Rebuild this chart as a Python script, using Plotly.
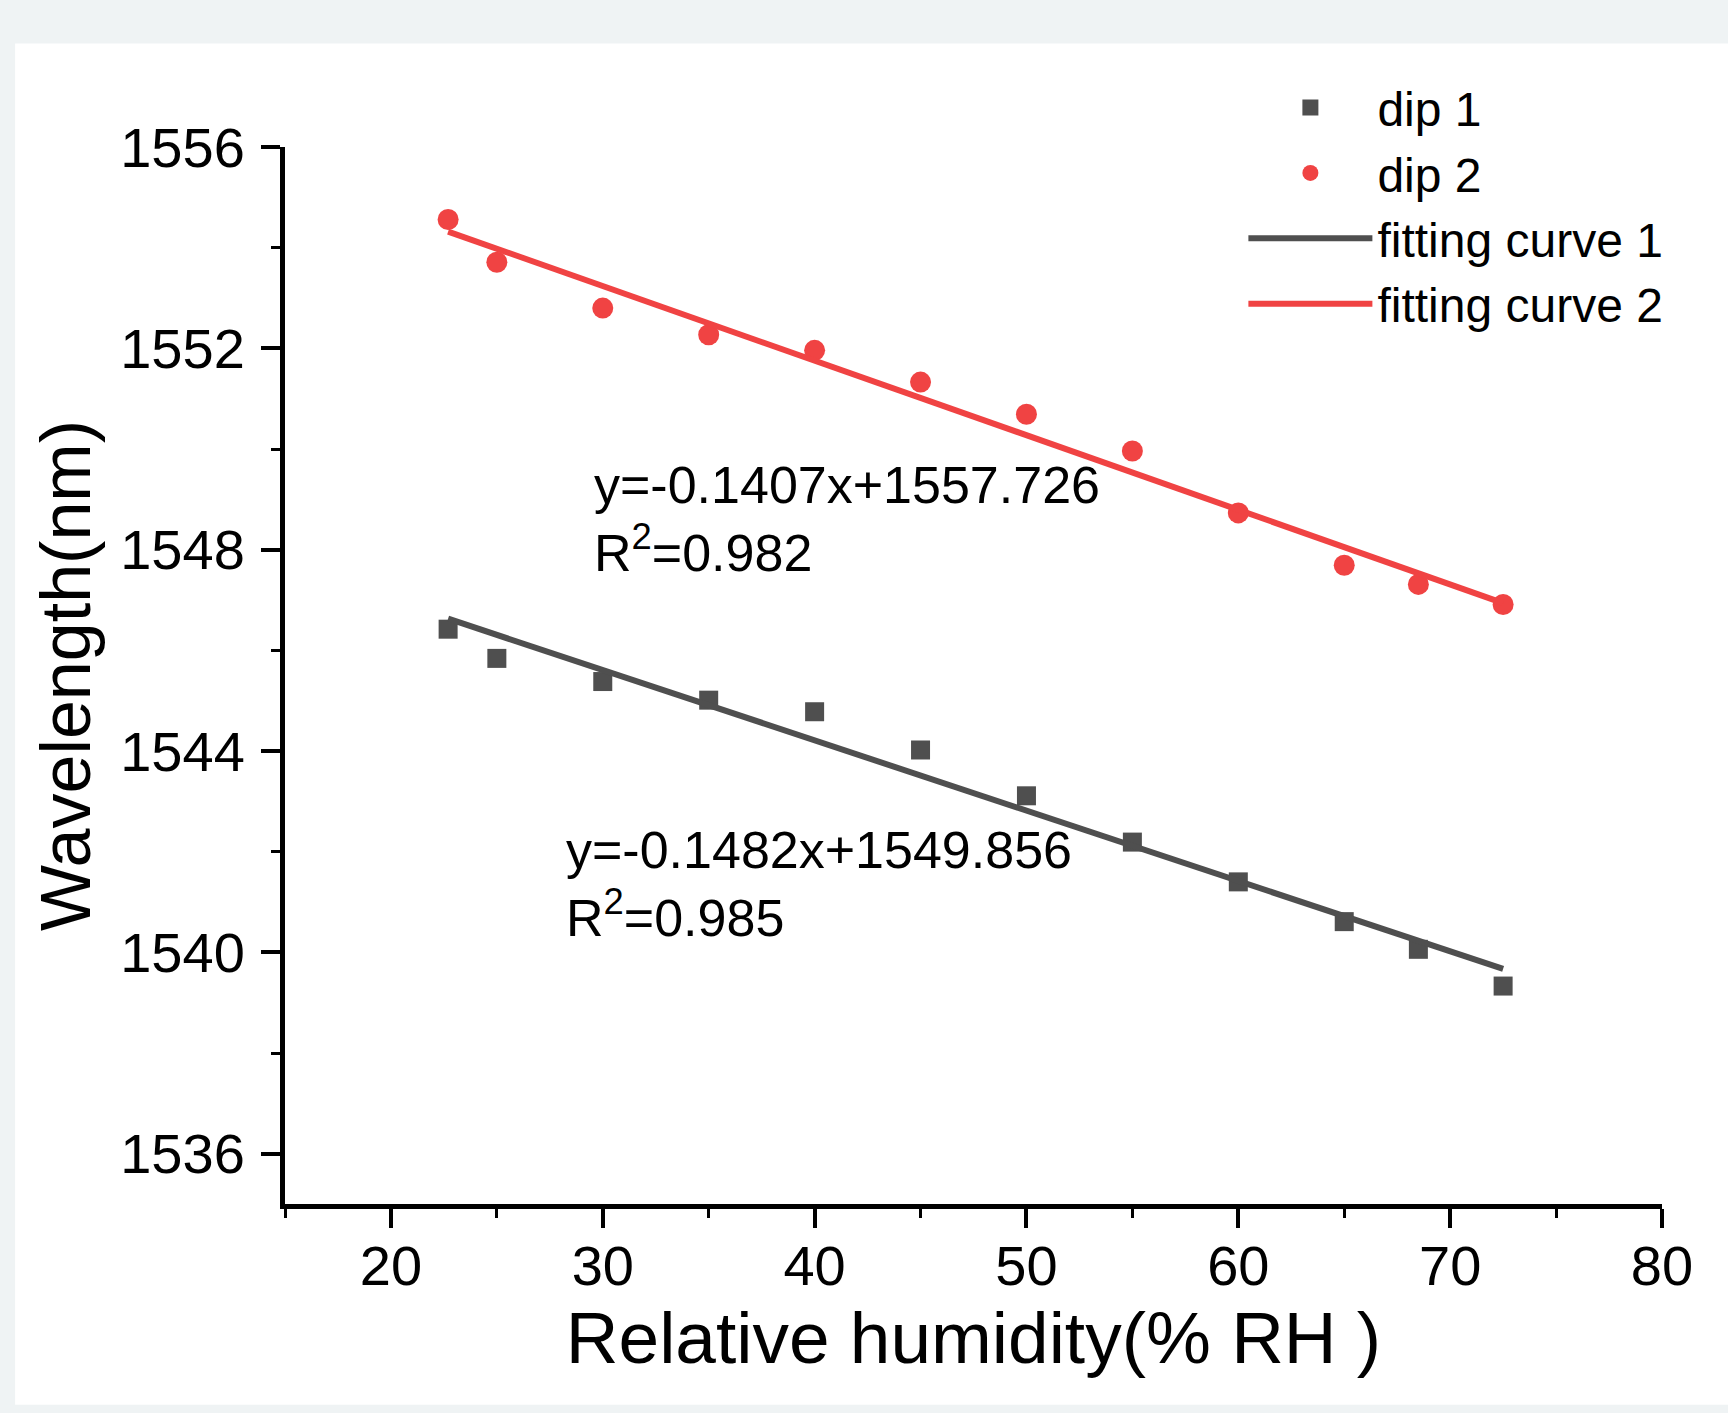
import numpy as np
import plotly.graph_objects as go

# ---- data ----
humidity = [22.7, 25, 30, 35, 40, 45, 50, 55, 60, 65, 68.5, 72.5]
dip1 = [1546.42, 1545.84, 1545.38, 1545.01, 1544.78, 1544.02,
        1543.11, 1542.19, 1541.40, 1540.61, 1540.06, 1539.33]
dip2 = [1554.56, 1553.71, 1552.80, 1552.27, 1551.96, 1551.33,
        1550.69, 1549.96, 1548.73, 1547.69, 1547.31, 1546.91]

series_names = ["dip 1", "dip 2", "fitting curve 1", "fitting curve 2"]
eq_upper = "y=-0.1407x+1557.726<br>R<sup>2</sup>=0.982"
eq_lower = "y=-0.1482x+1549.856<br>R<sup>2</sup>=0.985"
eq_upper_pos = (29.5, 1548.6)
eq_lower_pos = (28.15, 1541.35)

x_ticks = [20, 30, 40, 50, 60, 70, 80]
y_ticks = [1536, 1540, 1544, 1548, 1552, 1556]
x_range = [15, 80]
y_range = [1535, 1556]

# ---- styles ----
GRAY = "#4f4f4f"
RED = "#f04343"
PAGE = "#eff3f4"
FONT = "Arial, Liberation Sans, sans-serif"

# linear least-squares fits of the data
fit_x = [min(humidity), max(humidity)]
p1 = np.polyfit(humidity, dip1, 1)
p2 = np.polyfit(humidity, dip2, 1)
fit1_y = list(np.polyval(p1, fit_x))
fit2_y = list(np.polyval(p2, fit_x))

fig = go.Figure()
fig.add_trace(go.Scatter(x=humidity, y=dip1, mode="markers", name=series_names[0],
                         marker=dict(symbol="square", size=19, color=GRAY)))
fig.add_trace(go.Scatter(x=humidity, y=dip2, mode="markers", name=series_names[1],
                         marker=dict(symbol="circle", size=21, color=RED)))
fig.add_trace(go.Scatter(x=fit_x, y=fit1_y, mode="lines", name=series_names[2],
                         line=dict(color=GRAY, width=6)))
fig.add_trace(go.Scatter(x=fit_x, y=fit2_y, mode="lines", name=series_names[3],
                         line=dict(color=RED, width=6)))

for txt, (ax, ay) in [(eq_upper, eq_upper_pos), (eq_lower, eq_lower_pos)]:
    fig.add_annotation(x=ax, y=ay, xref="x", yref="y", text=txt, showarrow=False,
                       xanchor="left", yanchor="middle", align="left",
                       font=dict(family=FONT, size=52, color="black"))

# white panel on light gray page
fig.add_shape(type="rect", xref="paper", yref="paper", layer="below",
              x0=-0.196, x1=1.06, y0=-0.19, y1=1.098,
              fillcolor="white", line=dict(width=0))

axis_common = dict(showline=True, linecolor="black", linewidth=5,
                   ticks="outside", ticklen=19, tickwidth=4, tickcolor="black",
                   showgrid=False, zeroline=False,
                   tickfont=dict(family=FONT, size=56, color="black"))

fig.update_layout(
    width=1728, height=1413,
    margin=dict(l=285, r=66, t=147, b=209),
    paper_bgcolor=PAGE,
    plot_bgcolor="rgba(0,0,0,0)",
    font=dict(family=FONT, color="black"),
    xaxis=dict(range=x_range, tickmode="array", tickvals=x_ticks,
               ticklabelstandoff=-10,
               title=dict(text="Relative humidity(% RH )", standoff=10,
                          font=dict(family=FONT, size=73, color="black")),
               minor=dict(ticks="outside", ticklen=9, tickwidth=3, tickcolor="black",
                          tick0=15, dtick=5),
               **axis_common),
    yaxis=dict(range=y_range, tickmode="array", tickvals=y_ticks,
               ticklabelstandoff=5,
               title=dict(text="Wavelength(nm)", standoff=8,
                          font=dict(family=FONT, size=70, color="black")),
               minor=dict(ticks="outside", ticklen=9, tickwidth=3, tickcolor="black",
                          tick0=1536, dtick=2),
               **axis_common),
    legend=dict(x=0.696, y=1.073, xanchor="left", yanchor="top",
                bgcolor="rgba(0,0,0,0)", itemwidth=124,
                font=dict(family=FONT, size=48, color="black")),
    showlegend=True,
)

fig.write_html(
    "out.html",
    config={"displayModeBar": False},
    post_script=("document.body.style.margin='0';"
                 "document.body.style.backgroundColor='" + PAGE + "';"),
)
